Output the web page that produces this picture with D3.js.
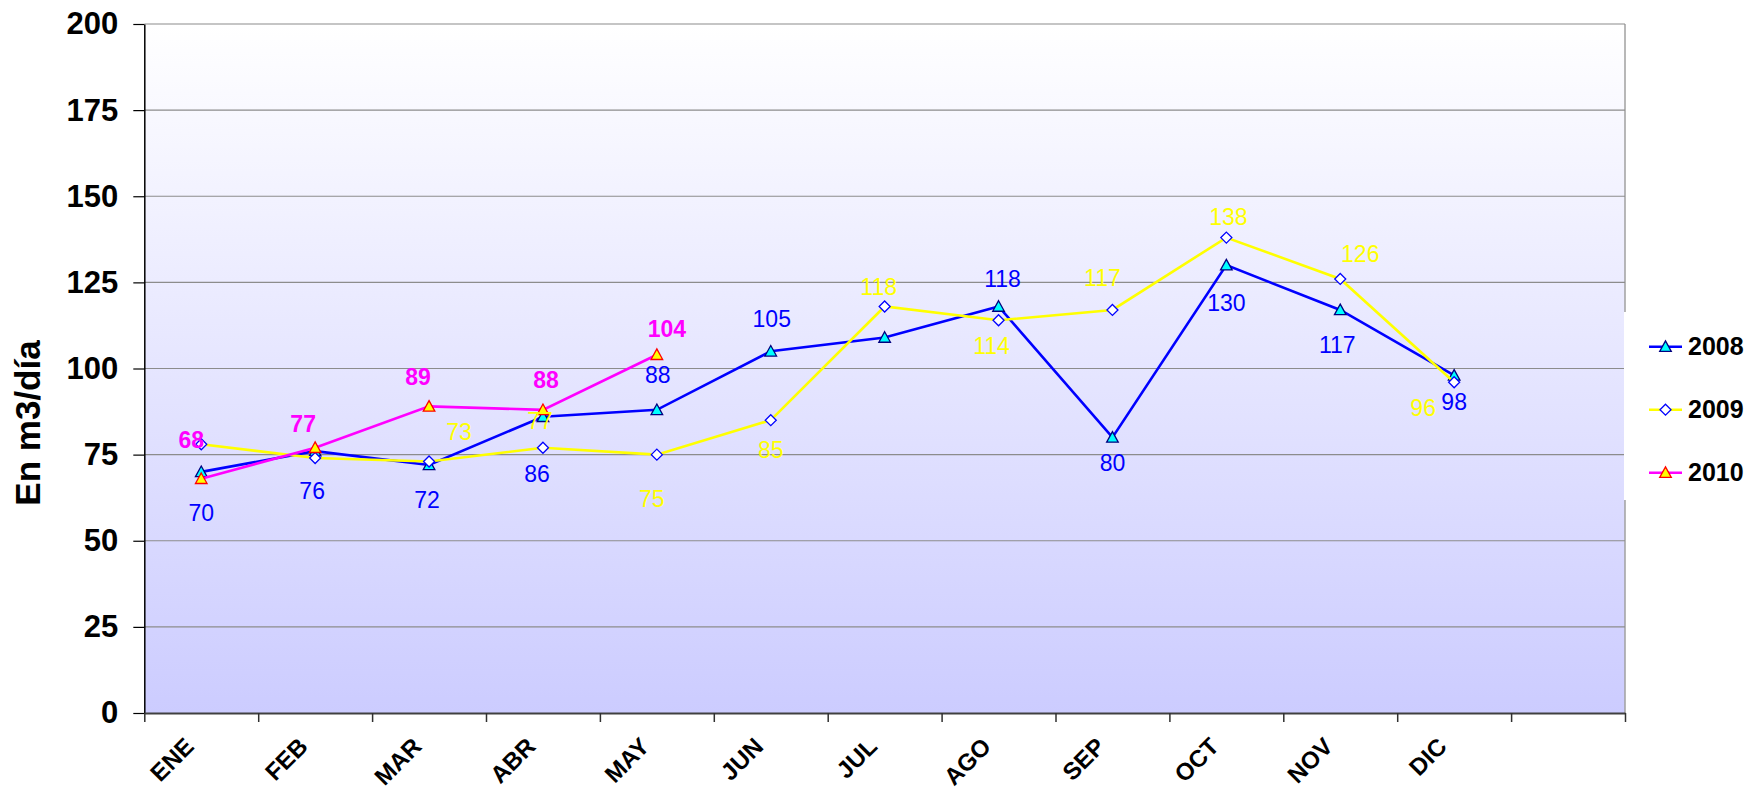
<!DOCTYPE html>
<html>
<head>
<meta charset="utf-8">
<script src="https://cdn.jsdelivr.net/npm/d3@7"></script>
<style>
  html, body { margin: 0; padding: 0; background: #ffffff; }
  svg { display: block; font-family: "Liberation Sans", Arial, sans-serif; }
</style>
</head>
<body>
<div id="chart"></div>
<script>
"use strict";

// == DATA ==
var months = ["ENE", "FEB", "MAR", "ABR", "MAY", "JUN", "JUL", "AGO", "SEP", "OCT", "NOV", "DIC"];
var values2008 = [70, 76, 72, 86, 88, 105, 109, 118, 80, 130, 117, 98];
var values2009 = [78, 74, 73, 77, 75, 85, 118, 114, 117, 138, 126, 96];
var values2010 = [68, 77, 89, 88, 104];
var yTicks = [0, 25, 50, 75, 100, 125, 150, 175, 200];
var seriesNames = ["2008", "2009", "2010"];

// label nudges (px, relative to the point), null = no label shown
var labelNudge2008 = [[0, 41], [-3, 40], [-2, 35], [-6, 57], [1, -35], [1, -32], null,
                      [4, -28], [0, 26], [0, 38], [-3, 35], [0, 27]];
var labelNudge2009 = [null, null, [30, -30], [-3, -27], [-5, 44], [0, 30], [-6, -20],
                      [-7, 26], [-10, -32], [2, -21], [20, -25], [-31, 26]];
var labelNudge2010 = [[-10, -39], [-12, -24], [-11, -29], [3, -30], [10, -26]];

// == BOILERPLATE ==
var width = 1745, height = 792;
var plot = { left: 144.3, right: 1625, top: 24, bottom: 713 };

var svg = d3.select("#chart")
  .append("svg")
  .attr("width", width)
  .attr("height", height);

var defs = svg.append("defs");
var grad = defs.append("linearGradient")
  .attr("id", "bg")
  .attr("x1", 0).attr("y1", 0).attr("x2", 0).attr("y2", 1);
grad.append("stop").attr("offset", "0%").attr("stop-color", "#ffffff");
grad.append("stop").attr("offset", "100%").attr("stop-color", "#ccccff");

// 12 months + one empty slot at the end
var x = d3.scaleLinear()
  .domain([0, months.length + 1])
  .range([plot.left, plot.right]);

var y = d3.scaleLinear()
  .domain([0, 200])
  .range([plot.bottom, plot.top]);

// plot background
svg.append("rect")
  .attr("x", plot.left)
  .attr("y", plot.top)
  .attr("width", plot.right - plot.left)
  .attr("height", plot.bottom - plot.top)
  .attr("fill", "url(#bg)");

// right border
svg.append("line")
  .attr("x1", plot.right).attr("x2", plot.right)
  .attr("y1", plot.top).attr("y2", plot.bottom)
  .attr("stroke", "#a0a0a0")
  .attr("stroke-width", 1.5);

// gridlines
svg.append("g")
  .selectAll("line")
  .data(yTicks.filter(function(d) { return d > 0; }))
  .enter()
  .append("line")
  .attr("x1", plot.left)
  .attr("x2", plot.right)
  .attr("y1", function(d) { return y(d); })
  .attr("y2", function(d) { return y(d); })
  .attr("stroke", "#8c8c8c")
  .attr("stroke-width", 1.2);

// y axis
var yAxis = svg.append("g")
  .attr("transform", "translate(" + plot.left + ",0)")
  .call(d3.axisLeft(y).tickValues(yTicks).tickSize(11).tickPadding(15).tickSizeOuter(0));
yAxis.select(".domain").attr("stroke", "#000").attr("stroke-width", 1.5);
yAxis.selectAll(".tick line").attr("stroke", "#000").attr("stroke-width", 1.2);
yAxis.selectAll(".tick text")
  .attr("fill", "#000")
  .style("font-size", "31px")
  .style("font-weight", "bold")
  .style("font-family", "'Liberation Sans', Arial, sans-serif");

// x axis (category boundaries)
var xAxis = svg.append("g")
  .attr("transform", "translate(0," + plot.bottom + ")")
  .call(d3.axisBottom(x).tickValues(d3.range(0, months.length + 2)).tickSize(9).tickFormat("").tickSizeOuter(0));
xAxis.select(".domain").attr("stroke", "#404040").attr("stroke-width", 2.2);
xAxis.selectAll(".tick line").attr("stroke", "#303030").attr("stroke-width", 1.5);

// month labels, rotated
svg.append("g")
  .selectAll("text")
  .data(months)
  .enter()
  .append("text")
  .attr("transform", function(d, i) {
    return "translate(" + (x(i + 0.5) - 6) + "," + (plot.bottom + 35) + ") rotate(-45)";
  })
  .attr("text-anchor", "end")
  .style("font-size", "24px")
  .style("font-weight", "bold")
  .attr("fill", "#000")
  .text(function(d) { return d; });

// y title
svg.append("text")
  .attr("transform", "translate(40,423) rotate(-90)")
  .attr("text-anchor", "middle")
  .style("font-size", "35px")
  .style("font-weight", "bold")
  .attr("fill", "#000")
  .text("En m3/día");

// == SERIES ==
function tri(s) { return "M0," + (-s) + "L" + s + "," + (s * 0.82) + "L" + (-s) + "," + (s * 0.82) + "Z"; }
function diamond(s) { return "M0," + (-s) + "L" + s + ",0L0," + s + "L" + (-s) + ",0Z"; }

var series = [
  { name: seriesNames[0], values: values2008, line: "#0000ff", fill: "#00ffff", edge: "#000080", shape: tri(5.8),
    labelColor: "#0000ff", bold: false, nudge: labelNudge2008 },
  { name: seriesNames[1], values: values2009, line: "#ffff00", fill: "#ffffff", edge: "#0000ff", shape: diamond(5.5),
    labelColor: "#ffff00", bold: false, nudge: labelNudge2009 },
  { name: seriesNames[2], values: values2010, line: "#ff00ff", fill: "#ffff00", edge: "#ff0000", shape: tri(5.8),
    labelColor: "#ff00ff", bold: true, nudge: labelNudge2010 }
];

var line = d3.line()
  .x(function(d, i) { return x(i + 0.5); })
  .y(function(d) { return y(d); });

series.forEach(function(s) {
  var g = svg.append("g");
  g.append("path")
    .datum(s.values)
    .attr("d", line)
    .attr("fill", "none")
    .attr("stroke", s.line)
    .attr("stroke-width", 2.6);
  g.selectAll("path.mk")
    .data(s.values)
    .enter()
    .append("path")
    .attr("class", "mk")
    .attr("d", s.shape)
    .attr("transform", function(d, i) { return "translate(" + x(i + 0.5) + "," + y(d) + ")"; })
    .attr("fill", s.fill)
    .attr("stroke", s.edge)
    .attr("stroke-width", 1.3);
});

// data labels on top
series.forEach(function(s) {
  svg.append("g")
    .selectAll("text")
    .data(s.values.map(function(v, i) { return { v: v, i: i, n: s.nudge[i] }; })
                  .filter(function(d) { return d.n; }))
    .enter()
    .append("text")
    .attr("x", function(d) { return x(d.i + 0.5) + d.n[0]; })
    .attr("y", function(d) { return y(d.v) + d.n[1]; })
    .attr("dy", "0.35em")
    .attr("text-anchor", "middle")
    .style("font-size", "23px")
    .style("font-weight", s.bold ? "bold" : "normal")
    .attr("fill", s.labelColor)
    .text(function(d) { return d.v; });
});

// == LEGEND ==
var legend = svg.append("g");
legend.append("rect")
  .attr("x", plot.right - 1)
  .attr("y", 312)
  .attr("width", width - plot.right + 1)
  .attr("height", 188)
  .attr("fill", "#ffffff");

var legendY = d3.scalePoint().domain(seriesNames).range([346.7, 472.7]);

var item = legend.selectAll("g.item")
  .data(series)
  .enter()
  .append("g")
  .attr("class", "item")
  .attr("transform", function(d) { return "translate(0," + legendY(d.name) + ")"; });
item.append("line")
  .attr("x1", 1649).attr("x2", 1682)
  .attr("stroke", function(d) { return d.line; })
  .attr("stroke-width", 2.6);
item.append("path")
  .attr("d", function(d) { return d.shape; })
  .attr("transform", "translate(1665.5,0)")
  .attr("fill", function(d) { return d.fill; })
  .attr("stroke", function(d) { return d.edge; })
  .attr("stroke-width", 1.3);
item.append("text")
  .attr("x", 1688)
  .attr("dy", "0.35em")
  .style("font-size", "25px")
  .style("font-weight", "bold")
  .attr("fill", "#000")
  .text(function(d) { return d.name; });
</script>
</body>
</html>
